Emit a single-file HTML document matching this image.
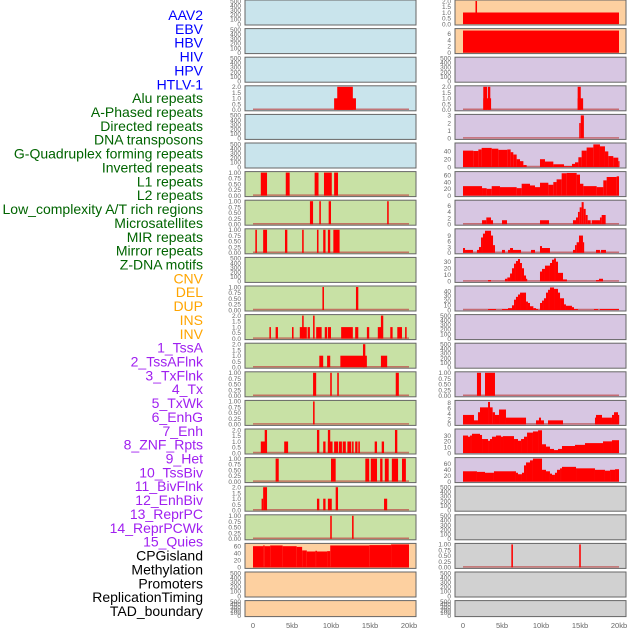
<!DOCTYPE html>
<html><head><meta charset="utf-8">
<style>
body{margin:0;background:#fff;width:630px;height:630px;overflow:hidden}
svg{display:block}
</style></head>
<body>
<svg id="chart" width="630" height="630" xmlns="http://www.w3.org/2000/svg" font-family="Liberation Sans, sans-serif"></svg>
<script>
const trackLabels = ["AAV2","EBV","HBV","HIV","HPV","HTLV-1","Alu repeats","A-Phased repeats","Directed repeats","DNA transposons","G-Quadruplex forming repeats","Inverted repeats","L1 repeats","L2 repeats","Low_complexity A/T rich regions","Microsatellites","MIR repeats","Mirror repeats","Z-DNA motifs","CNV","DEL","DUP","INS","INV","1_TssA","2_TssAFlnk","3_TxFlnk","4_Tx","5_TxWk","6_EnhG","7_Enh","8_ZNF_Rpts","9_Het","10_TssBiv","11_BivFlnk","12_EnhBiv","13_ReprPC","14_ReprPCWk","15_Quies","CPGisland","Methylation","Promoters","ReplicationTiming","TAD_boundary"];
const labelGroups = [0,0,0,0,0,0,1,1,1,1,1,1,1,1,1,1,1,1,1,2,2,2,2,2,3,3,3,3,3,3,3,3,3,3,3,3,3,3,3,4,4,4,4,4];
const xTickLabels = ["0","5kb","10kb","15kb","20kb"];
const xTickValues = [0,5,10,15,20];

const T500 = ["500","400","300","200","100","0"];
const T1 = ["1.00","0.75","0.50","0.25","0.00"];
const T2 = ["2.0","1.5","1.0","0.5","0.0"];

// left column
const leftBg = ["b","b","b","b","b","b","g","g","g","g","g","g","g","g","g","g","g","g","g","p","p","p"];
const leftMax = [500,500,500,2,500,500,1,1,1,500,1,2,2,1,1,2,1,2,1,65,500,500];
const leftTicks = [T500,T500,T500,T2,T500,T500,T1,T1,T1,T500,T1,T2,T2,T1,T1,T2,T1,T2,T1,["60","40","20","0"],T500,T500];
const leftSegs = [
 [],[],[],
 [[10.4,13.2,1],[10.8,12.8,2]],
 [],[],
 [[1.0,1.8,1],[4.2,4.7,1],[7.9,8.4,1],[9.1,10.1,1],[10.4,10.9,1]],
 [[7.3,7.7,1],[8.5,8.7,1],[9.7,10.0,1],[17.2,17.4,1]],
 [[0.3,0.5,1],[1.3,1.8,1],[4.1,4.4,1],[6.3,6.5,1],[8.2,8.4,1],[9.0,9.3,1],[9.6,9.9,1],[10.3,11.1,1]],
 [],
 [[8.9,9.1,1],[13.2,13.5,1]],
 [[2.1,2.3,1],[2.9,3.2,1],[5.0,5.2,1],[6.0,6.9,1],[7.0,7.3,1],[8.1,8.8,1],[9.2,9.5,1],[9.6,10.0,1],[11.3,12.8,1],[13.1,13.5,1],[14.6,14.9,1],[16.0,16.5,1],[17.6,17.9,1],[18.5,19.1,1],[19.5,19.7,1],[6.3,6.5,2],[7.7,7.9,2],[16.4,16.7,2]],
 [[8.5,9.0,1],[9.5,9.9,1],[11.2,14.6,1],[14.1,14.4,2],[16.4,17.2,1]],
 [[7.7,8.1,1],[9.9,10.1,1],[10.8,11.0,1],[18.3,18.7,1]],
 [[7.7,7.9,1]],
 [[1.0,1.8,1],[4.0,4.5,1],[9.0,9.3,1],[9.6,10.2,1],[10.4,10.9,1],[11.0,11.4,1],[11.5,11.9,1],[12.1,12.6,1],[12.7,12.9,1],[13.1,13.4,1],[13.5,13.7,1],[15.6,15.9,1],[16.5,16.8,1],[1.5,1.8,2],[8.2,8.5,2],[9.6,9.9,2],[18.2,18.5,2]],
 [[2.9,3.3,1],[10.0,10.6,1],[14.4,14.9,1],[15.1,15.9,1],[16.3,16.6,1],[16.9,17.4,1],[17.8,18.6,1],[19.1,19.6,1]],
 [[1.1,1.3,1],[1.3,1.8,2],[8.2,8.5,1],[9.0,9.3,1],[9.6,10.1,1],[10.6,10.9,2],[16.8,17.2,1]],
 [[9.9,10.1,1],[12.7,12.9,1]],
 "cpg",[],[]
];
const cpgSteps = [[0,60],[1.3,62],[1.5,60],[2.2,62],[3.8,60],[5.6,58],[6.3,48],[6.9,45],[8.0,47],[8.2,45],[9.5,46],[9.9,62],[14.9,63],[17.7,65],[20,null]];

// right column
const rightBg = ["p","p","l","l","l","l","l","l","l","l","l","l","l","l","l","l","l","y","y","y","y","y"];
const rightMax = [2,7.3,500,2,3,59,68,7.5,12,35,49,500,500,1,8.5,39.5,78,500,500,1,500,500];
const rightTicks = [T2,["6","4","2","0"],T500,T2,["3","2","1","0"],["40","20","0"],["60","40","20","0"],["6","4","2","0"],["9","6","3","0"],["30","20","10","0"],["40","30","20","10","0"],T500,T500,T1,["8","6","4","2","0"],["30","20","10","0"],["60","40","20","0"],T500,T500,T1,T500,T500];
const gquadSteps = [[0,42],[1.32,41],[1.97,45],[2.39,49],[3.68,47],[4.53,44],[5.68,45],[6.11,38],[6.45,32],[6.88,20],[7.31,15],[7.74,5],[8.16,0],[9.87,20],[10.51,14],[11.58,7],[12.95,2],[13.97,8],[14.36,12],[14.79,25],[15.21,42],[15.85,50],[16.71,58],[17.56,53],[18.2,40],[18.63,28],[19.27,24],[19.91,15],[20,null]];
const l1Steps = [[0,28],[2.44,22],[3.03,20],[3.68,28],[4.74,25],[6.88,22],[7.52,35],[8.59,30],[9.23,25],[9.87,38],[10.94,32],[11.58,40],[12.0,48],[12.65,66],[13.29,67],[14.57,62],[15.0,35],[15.43,28],[17.14,25],[17.99,45],[18.42,55],[19.7,57],[20,null]];
const tx4Steps = [[0,3.5],[1.41,1.5],[1.92,4.5],[2.18,6.3],[3.21,8.3],[3.46,6.3],[3.80,4.5],[4.10,3.5],[4.62,5.5],[5.51,2.5],[8.08,0],[9.36,1.5],[9.74,2.5],[10.0,1.5],[10.38,0],[10.9,1.5],[12.82,0],[16.92,2.5],[17.05,3.5],[17.82,2.5],[19.1,3.5],[19.36,4.5],[19.87,3.5],[20,null]];
const znfSteps = [[0,30],[0.64,28],[0.9,30],[1.15,33],[2.18,31],[2.44,24],[3.21,21],[3.46,24],[3.72,28],[4.23,30],[4.87,28],[5.13,29],[6.54,24],[7.05,21],[7.44,24],[7.82,28],[8.21,35],[8.97,37],[9.62,39],[10.13,15],[10.64,11],[11.15,7],[11.67,5],[12.18,7],[12.69,12],[14.36,14],[15.64,17],[17.95,20],[19.1,22],[20,null]];
const hetSteps = [[0,35],[1.79,33],[2.82,30],[3.97,35],[6.79,30],[7.05,25],[7.56,30],[7.82,55],[8.08,65],[8.59,72],[8.97,78],[10.13,40],[10.64,35],[11.15,27],[11.41,23],[11.79,30],[12.05,40],[12.44,45],[12.69,50],[14.49,45],[16.92,40],[18.2,37],[18.85,40],[19.49,42],[20,null]];
const rightSegs = [
 [[0,20,1],[1.6,1.8,2]],
 [[0,20,7]],
 [],
 [[2.6,3.6,1],[2.6,3.1,2],[3.2,3.5,2],[14.7,15.4,1],[14.7,15.1,2]],
 [[14.9,15.1,2],[15.1,15.5,3]],
 "gquad","l1",
 [[2.44,2.99,1.3],[2.99,3.59,2.2],[3.59,3.85,1.3],[5.0,5.64,1.3],[9.87,11.03,1.3],[14.1,14.49,1.3],[14.49,14.74,2.2],[14.74,14.96,4],[14.96,15.21,5.5],[15.21,15.47,7.2],[15.47,15.73,5],[15.73,15.98,3],[15.98,16.37,1.3],[16.5,17.56,1.3],[17.56,17.78,2.2],[17.78,18.29,3.0]],
 [[0,0.26,2.5],[0.26,1.28,1.5],[1.79,2.05,1.5],[2.05,2.31,3],[2.31,2.56,8],[2.56,2.82,10],[2.82,3.59,11.5],[3.59,3.85,9],[3.85,4.10,4],[5.0,5.38,1.5],[5.77,6.03,1.5],[6.03,6.41,2.5],[6.41,7.44,1.5],[8.72,9.23,1.5],[9.87,10.13,3.5],[10.13,11.15,2.5],[14.1,14.36,1.5],[14.36,14.57,4],[14.57,14.87,5.5],[14.87,15.38,9],[15.38,15.51,5.5],[17.05,17.56,1.5],[17.69,18.33,1.5]],
 [[3.21,3.59,2],[5.38,5.68,4],[5.68,6.03,6],[6.03,6.28,12],[6.28,6.54,20],[6.54,6.79,27],[6.79,7.05,31],[7.05,7.31,34],[7.31,7.56,28],[7.56,7.82,20],[7.82,8.08,9],[8.08,8.21,4],[9.87,10.13,15],[10.13,10.51,19],[10.51,11.15,24],[11.15,11.41,28],[11.41,11.67,33],[11.67,11.92,35],[11.92,12.18,30],[12.18,12.82,13],[12.82,13.33,3],[17.05,17.44,2],[17.44,17.95,4]],
 [[3.21,4.23,2],[5.0,5.77,2],[5.77,6.28,4],[6.28,6.54,10],[6.54,6.79,22],[6.79,7.05,28],[7.05,7.31,33],[7.31,8.08,37],[8.08,8.33,18],[8.33,8.59,15],[8.59,9.02,8],[9.02,9.36,4],[9.36,9.62,2],[9.87,10.13,15],[10.13,10.38,20],[10.38,10.64,25],[10.64,10.9,37],[10.9,11.15,43],[11.15,11.67,48],[11.67,12.18,45],[12.18,12.44,37],[12.44,12.95,25],[12.95,13.2,12],[13.2,13.97,9],[13.97,14.23,6],[14.23,14.74,2],[16.79,17.31,2],[17.56,20,2]],
 [],[],
 [[1.79,2.31,1],[2.82,4.10,1]],
 "tx4","znf","het",
 [],[],
 [[6.2,6.4,1],[14.9,15.1,1]],
 [],[]
];
const stepSets = {cpg:cpgSteps, gquad:gquadSteps, l1:l1Steps, tx4:tx4Steps, znf:znfSteps, het:hetSteps};

const NS="http://www.w3.org/2000/svg";
const svg=document.getElementById('chart');
const bgColors={b:"#c9e4ec",g:"#c8e1a5",p:"#fdd0a0",l:"#d7c6e2",y:"#d1d1d1"};
const groupColors=["#0000ff","#006400","#ffa500","#a020f0","#000000"];
function mk(tag,attrs){const e=document.createElementNS(NS,tag);for(const k in attrs)e.setAttribute(k,attrs[k]);svg.appendChild(e);return e;}
function rowTop(i){return i*28.6;}
function rowH(i){return i===21?16:25;}

// labels
trackLabels.forEach((t,i)=>{
  const e=mk('text',{x:203,y:15+i*13.86+5,'text-anchor':'end','font-size':'14',fill:groupColors[labelGroups[i]]});
  e.textContent=t;
  
  
});

function drawColumn(side,frameX,x0,bgs,maxes,ticks,segs){
  const frameW=171, pxPerKb=7.8;
  const xs=v=>x0+v*pxPerKb;
  for(let i=0;i<bgs.length;i++){
    const top=rowTop(i),h=rowH(i),bot=top+h;
    const ys=v=>bot-1-(v/maxes[i])*(h-2);
    const r=mk('rect',{x:frameX,y:top,width:frameW,height:h,fill:bgColors[bgs[i]],stroke:"#666","stroke-width":1});
    
    
    ticks[i].forEach(lbl=>{
      const t=mk('text',{x:frameX-4,y:ys(parseFloat(lbl))+2.3,'text-anchor':'end','font-size':'6.5',fill:"#666"});
      t.textContent=lbl;
      
      
    });
    let s=segs[i];
    if(typeof s==='string'){
      const st=stepSets[s];const arr=[];
      for(let k=0;k<st.length-1;k++) if(st[k][1]>0) arr.push([st[k][0],st[k+1][0],st[k][1]]);
      s=arr;
    }
    const hasData=s.length>0;
    if(hasData){
      const ln=mk('line',{x1:xs(0),x2:xs(20),y1:bot-1.5,y2:bot-1.5,stroke:"rgba(190,70,70,0.7)","stroke-width":1.5});
      
      
    }
    s.forEach(sg=>{
      const y=ys(sg[2]);
      const b=mk('rect',{x:xs(sg[0]),y:y,width:Math.max(1.2,xs(sg[1])-xs(sg[0])),height:(bot-1)-y,fill:"#ff0000"});
      
      
    });
  }
  xTickValues.forEach((v,k)=>{
    const t=mk('text',{x:xs(v),y:628,'text-anchor':'middle','font-size':'7.5',fill:"#666"});
    t.textContent=xTickLabels[k];
    
    
  });
}
drawColumn('left',245,253,leftBg,leftMax,leftTicks,leftSegs);
drawColumn('right',455,463,rightBg,rightMax,rightTicks,rightSegs);
</script>
</body></html>
